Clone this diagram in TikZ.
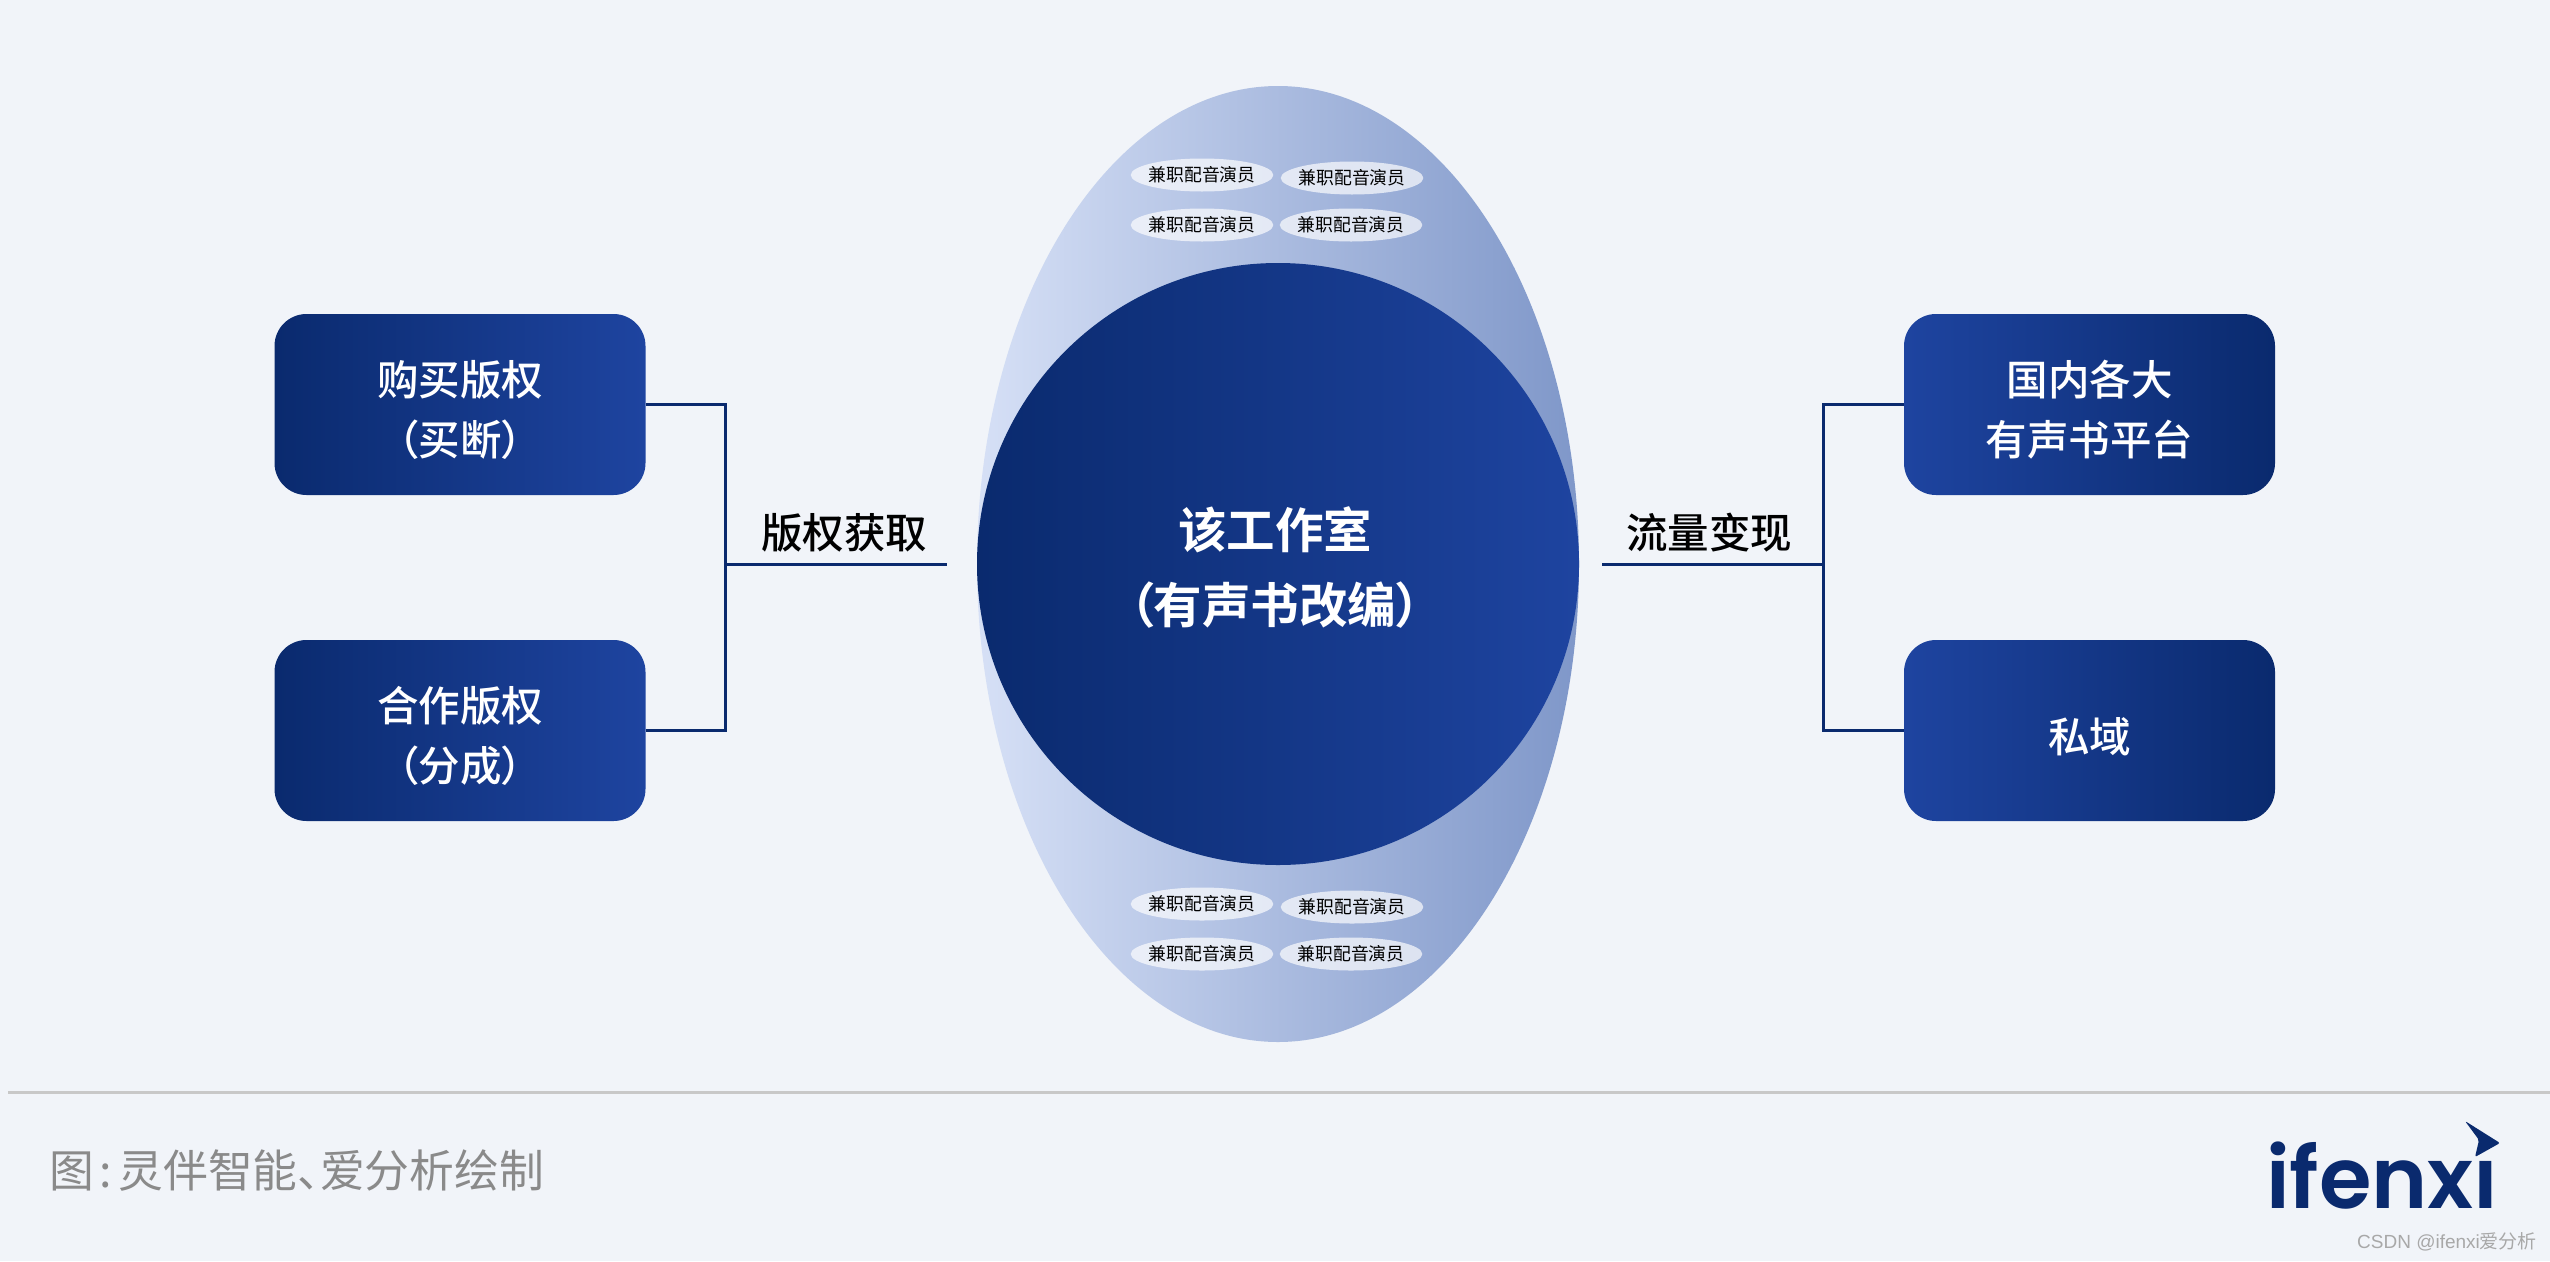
\documentclass[tikz,border=0pt]{standalone}
\usepackage{fontspec}
\setmainfont{Noto Sans CJK SC}[RawFeature=+palt]
\newfontfamily\medfont{Noto Sans CJK SC Medium}[RawFeature=+palt]
\newfontfamily\boldcjk{Noto Sans CJK SC Bold}[RawFeature=+palt]
\newfontfamily\logofont{Poppins SemiBold}
\newfontfamily\wmfont{Liberation Sans}
\newfontfamily\wmcjk{Noto Sans CJK SC}
\definecolor{pagebg}{HTML}{F1F4F9}
\definecolor{navy}{HTML}{0A2A6E}
\definecolor{royal}{HTML}{1E44A0}
\definecolor{palel}{HTML}{D6E0F6}
\definecolor{palem}{HTML}{A6B8E1}
\definecolor{paler}{HTML}{7F97C9}
\definecolor{rulegrey}{HTML}{C8C8C8}
\definecolor{capgrey}{HTML}{8A8A8A}
\definecolor{wmgrey}{HTML}{A8A8A8}
\tikzset{
  bx/.style={rounded corners=32pt,minimum width=371pt,minimum height=181pt,inner sep=0pt},
  bxl/.style={bx,left color=navy,right color=royal},
  bxr/.style={bx,left color=royal,right color=navy},
  wtxt/.style={text=white,font=\medfont\fontsize{41.5}{60}\selectfont,align=center,inner sep=0pt},
  lbl/.style={text=black,font=\medfont\fontsize{41.5}{50}\selectfont,inner sep=0pt},
  coretxt/.style={text=white,font=\boldcjk\fontsize{48.5}{48}\selectfont,inner sep=0pt},
  pill/.style={ellipse,minimum width=140pt,minimum height=33pt,inner xsep=-3pt,inner ysep=-4pt,fill=white,fill opacity=.68,text opacity=1,text=black,font=\fontsize{17.8}{20}\selectfont},
  conn/.style={draw=navy,line width=3pt},
}
\usetikzlibrary{shapes.geometric}
\begin{document}
\begin{tikzpicture}[x=1pt,y=-1pt]
\useasboundingbox (0,0) rectangle (2550,1261);
\fill[pagebg] (0,0) rectangle (2550,1261);
% central shapes
\node[ellipse,minimum width=602pt,minimum height=956pt,inner sep=0pt,left color=palel,middle color=palem,right color=paler] (oval) at (1278,564) {};
\node[circle,minimum size=602pt,inner sep=0pt,left color=navy,right color=royal,text=white,align=center] (core) at (1278,564) {};
\node[coretxt] (coreA) at (1275,530) {该工作室};
\node[coretxt] (coreB) at (1275,605) {（有声书改编）};
% pills
\node[pill] (p1) at (1202,175) {兼职配音演员};
\node[pill] (p2) at (1352,178) {兼职配音演员};
\node[pill] (p3) at (1202,225) {兼职配音演员};
\node[pill] (p4) at (1351,225) {兼职配音演员};
\node[pill] (p5) at (1202,904) {兼职配音演员};
\node[pill] (p6) at (1352,907) {兼职配音演员};
\node[pill] (p7) at (1202,954) {兼职配音演员};
\node[pill] (p8) at (1351,954) {兼职配音演员};
% boxes
\node[bxl] (b1) at (460,404.5) {};
\node[bxl] (b2) at (460,730.5) {};
\node[bxr] (b3) at (2089.5,404.5) {};
\node[bxr] (b4) at (2089.5,730.5) {};
\node[wtxt] at (460,380) {购买版权};
\node[wtxt] at (460,440) {（买断）};
\node[wtxt] at (460,706) {合作版权};
\node[wtxt] at (460,766) {（分成）};
\node[wtxt] at (2089.5,380) {国内各大};
\node[wtxt] at (2089.5,440) {有声书平台};
\node[wtxt] at (2089.5,737) {私域};
% connectors
\coordinate (jl) at (725,564);
\coordinate (el) at (947,564);
\coordinate (jr) at (1823,564);
\coordinate (er) at (1602,564);
\draw[conn] (b1.east) -| (jl);
\draw[conn] (b2.east) -| (jl);
\draw[conn] (jl) -- (el);
\draw[conn] (b3.west) -| (jr);
\draw[conn] (b4.west) -| (jr);
\draw[conn] (er) -- (jr);
\node[lbl] (l1) at (844,533) {版权获取};
\node[lbl] (l2) at (1709,533) {流量变现};
% footer
\coordinate (r1) at (8,1092);
\coordinate (r2) at (2550,1092);
\draw[draw=rulegrey,line width=3pt] (r1) -- (r2);
\node[anchor=west,text=capgrey,font=\fontsize{44.8}{45}\selectfont,inner sep=0pt] (cap) at (49,1171) {图\hspace{6pt}:\hspace{6pt}灵伴智能、爱分析绘制};
% logo
\node[anchor=base west,text=navy,font=\logofont\fontsize{85}{85}\selectfont,inner sep=0pt,text depth=0pt,text height=60pt] (logo) at (2266,1208) {ifenxı};
\fill[navy,rounded corners=2pt] (2465,1121) -- (2500,1143) -- (2475,1157) -- (2479,1140) -- cycle;
\node[anchor=base west,text=wmgrey,font=\wmfont\fontsize{19}{19}\selectfont,inner sep=0pt] (wm) at (2357,1248) {CSDN @ifenxi{\wmcjk 爱分析}};
\end{tikzpicture}
\end{document}
